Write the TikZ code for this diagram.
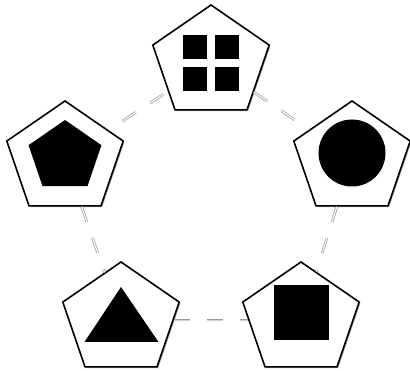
\documentclass[tikz,border=0pt]{standalone}
\usetikzlibrary{shapes.geometric,shadows,calc}
\begin{document}
\begin{tikzpicture}[x=1pt,y=1pt,
  pent/.style={regular polygon, regular polygon sides=5, minimum size=116pt, inner sep=0pt,
    draw=black, line width=1.6pt, fill=white, xscale=1.055, transform shape,
    drop shadow={shadow xshift=1.2pt, shadow yshift=-1.2pt, opacity=0.35, fill=black}},
  blk/.style={fill=black, inner sep=0pt, draw=none},
  link/.style={draw=black!40, double=white, double distance=1.1pt, line width=0.7pt,
    dash pattern=on 16pt off 17pt},
  hlink/.style={draw=black!40, double=black!18, double distance=0.9pt, line width=0.7pt,
    dash pattern=on 16pt off 17pt}]
\useasboundingbox (0,0) rectangle (410,371);
% outer pentagons
\node[pent] (t)  at (211,308) {};
\node[pent] (l)  at (65,212) {};
\node[pent] (r)  at (352,212) {};
\node[pent] (bl) at (121,51) {};
\node[pent] (br) at (301,51) {};
% top: four squares
\node[blk, rectangle, minimum size=24pt] (q1) at (195,324) {};
\node[blk, rectangle, minimum size=24pt] (q2) at (227,324) {};
\node[blk, rectangle, minimum size=24pt] (q3) at (195,292) {};
\node[blk, rectangle, minimum size=24pt] (q4) at (227,292) {};
% left: inner pentagon
\node[blk, regular polygon, regular polygon sides=5, minimum size=73pt, xscale=1.05, transform shape] (lp) at (65,214.5) {};
% right: circle
\node[blk, circle, minimum size=67pt] (rc) at (352,218) {};
% bottom right: square
\node[blk, rectangle, minimum size=55pt] (bs) at (301,58.5) {};
% bottom left: triangle
\fill[black] (121,84) -- (158.5,29) -- (84.5,29) -- cycle;
% connectors
\draw[link, dash phase=16.6pt] (l) -- (t);
\draw[link] (t) -- (r);
\draw[link] (r) -- (br);
\draw[hlink] (bl) -- (br);
\draw[link] (l) -- (bl);
\end{tikzpicture}
\end{document}
